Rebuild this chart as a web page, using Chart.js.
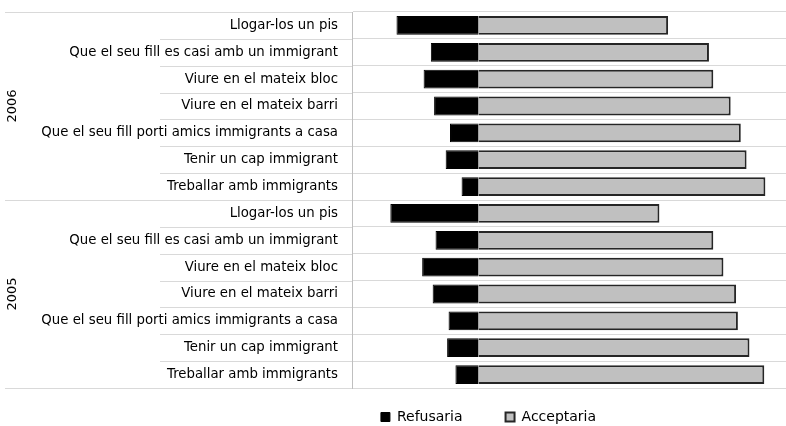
<!DOCTYPE html>
<html>
<head>
<meta charset="utf-8">
<script src="https://cdn.jsdelivr.net/npm/chart.js@4/dist/chart.umd.min.js"></script>
<style>
  html, body { margin: 0; padding: 0; background: #fff; }
  #wrap { width: 786px; height: 426px; }
</style>
</head>
<body>
<div id="wrap"><canvas id="chart"></canvas></div>
<script>
const years = ["2006", "2005"];
const items = [
  "Llogar-los un pis",
  "Que el seu fill es casi amb un immigrant",
  "Viure en el mateix bloc",
  "Viure en el mateix barri",
  "Que el seu fill porti amics immigrants a casa",
  "Tenir un cap immigrant",
  "Treballar amb immigrants"
];
const refusaria2006 = [-22.7, -13.2, -15.2, -12.3, -7.9, -9.1, -4.7];
const acceptaria2006 = [52.4, 63.7, 64.9, 69.7, 72.5, 74.1, 79.3];
const refusaria2005 = [-24.4, -11.9, -15.6, -12.7, -8.3, -8.7, -6.4];
const acceptaria2005 = [50.0, 64.9, 67.7, 71.2, 71.7, 74.9, 79.0];

const labels = years.flatMap(() => items);
const refusaria = refusaria2006.concat(refusaria2005);
const acceptaria = acceptaria2006.concat(acceptaria2005);

Chart.defaults.font.family = "DejaVu Sans";
Chart.defaults.font.size = 13;
Chart.defaults.color = "#000";

// year column + lines that run into the label area
const groupAxis = {
  id: "groupAxis",
  afterDraw(chart) {
    const { ctx, chartArea } = chart;
    const y = chart.scales.y;
    const step = y.getPixelForValue(1) - y.getPixelForValue(0);
    ctx.save();
    ctx.strokeStyle = "#d9d9d9";
    ctx.lineWidth = 1;
    for (let i = 0; i <= labels.length; i++) {
      const py = Math.round(y.getPixelForValue(i) - step / 2) + 0.5;
      const groupEdge = i % items.length === 0;
      ctx.beginPath();
      ctx.moveTo(groupEdge ? 5 : chartArea.left - 192, py);
      ctx.lineTo(chartArea.left, py);
      ctx.stroke();
    }
    ctx.fillStyle = "#000";
    ctx.font = "13px 'DejaVu Sans'";
    ctx.textAlign = "center";
    ctx.textBaseline = "middle";
    years.forEach((yr, g) => {
      const a = y.getPixelForValue(g * items.length);
      const b = y.getPixelForValue((g + 1) * items.length - 1);
      ctx.save();
      ctx.translate(13, (a + b) / 2);
      ctx.rotate(-Math.PI / 2);
      ctx.fillText(yr, 0, 0);
      ctx.restore();
    });
    ctx.restore();
  },
  afterLayout(chart) {
    // legend sits right of the canvas centre, a bit lower
    chart.legend.left += 191;
    chart.legend.top -= 21;
  }
};

new Chart(document.getElementById("chart"), {
  type: "bar",
  data: {
    labels,
    datasets: [
      {
        label: "Refusaria",
        data: refusaria,
        backgroundColor: "#000",
        borderColor: "#000",
        borderWidth: 1
      },
      {
        label: "Acceptaria",
        data: acceptaria,
        backgroundColor: "#c0c0c0",
        borderColor: "#262626",
        borderWidth: 2
      }
    ]
  },
  options: {
    indexAxis: "y",
    responsive: true,
    maintainAspectRatio: false,
    animation: false,
    layout: { padding: { top: 12, right: 0, bottom: 0, left: 0 } },
    datasets: {
      bar: { categoryPercentage: 1, barPercentage: 0.7 }
    },
    scales: {
      x: {
        stacked: true,
        display: false,
        min: -35,
        max: 85
      },
      y: {
        stacked: true,
        afterFit(scale) {
          scale.width = 352;
          scale.paddingTop = 0;
          scale.paddingBottom = 0;
        },
        border: { display: true, color: "#bfbfbf" },
        grid: { color: "#d9d9d9", drawTicks: false, offset: true },
        ticks: { padding: 14, font: { size: 13.3 } }
      }
    },
    plugins: {
      legend: {
        position: "bottom",
        maxHeight: 38,
        labels: {
          boxWidth: 9,
          boxHeight: 9,
          padding: 43,
          font: { size: 14 }
        }
      },
      tooltip: { enabled: false }
    }
  },
  plugins: [groupAxis]
});
</script>
</body>
</html>
